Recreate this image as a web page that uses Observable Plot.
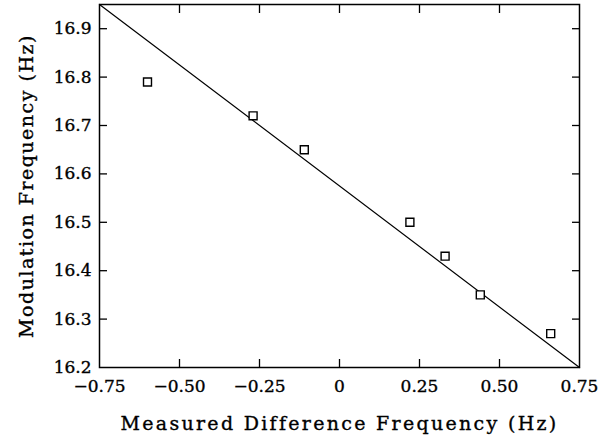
<!DOCTYPE html>
<html><head><meta charset="utf-8">
<script src="https://cdn.jsdelivr.net/npm/d3@7"></script>
<script src="https://cdn.jsdelivr.net/npm/@observablehq/plot@0.6"></script>
<style>body{margin:0;background:#fff;} svg{display:block;} svg text{stroke:#000;stroke-width:0.35px;}</style>
</head><body><div id="chart"></div>
<script>
const diffFreq = [-0.60, -0.27, -0.11, 0.22, 0.33, 0.44, 0.66];
const modFreq  = [16.79, 16.72, 16.65, 16.50, 16.43, 16.35, 16.27];
const fitX = [-0.75, 0.75];
const fitY = [16.95, 16.20];
const xTicks = [-0.75, -0.5, -0.25, 0, 0.25, 0.5, 0.75];
const yTicks = [16.2, 16.3, 16.4, 16.5, 16.6, 16.7, 16.8, 16.9];
const xInner = [-0.5, -0.25, 0, 0.25, 0.5];
const yInner = [16.3, 16.4, 16.5, 16.6, 16.7, 16.8, 16.9];

const pts = diffFreq.map((x, i) => ({x, y: modFreq[i]}));
const fit = fitX.map((x, i) => ({x, y: fitY[i]}));
const fx = d => d === 0 ? "0" : d3.format(".2f")(d);
const fy = d => d3.format(".1f")(d);
const none = () => "";

const chart = Plot.plot({
  width: 613, height: 438,
  marginLeft: 99, marginRight: 34, marginTop: 4, marginBottom: 71,
  style: {fontFamily: "DejaVu Serif", fontSize: "17px", color: "#000", background: "#fff"},
  x: {domain: [-0.75, 0.75]},
  y: {domain: [16.2, 16.95]},
  marks: [
    Plot.frame({stroke: "#000", strokeWidth: 1.5}),
    Plot.axisX(xInner, {anchor: "bottom", tickSize: -8, tickFormat: none, label: null, strokeWidth: 1.3}),
    Plot.axisX(xInner, {anchor: "top", tickSize: -8, tickFormat: none, label: null, strokeWidth: 1.3}),
    Plot.axisY(yInner, {anchor: "left", tickSize: -8, tickFormat: none, label: null, strokeWidth: 1.3}),
    Plot.axisY(yInner, {anchor: "right", tickSize: -8, tickFormat: none, label: null, strokeWidth: 1.3}),
    Plot.axisX(xTicks, {anchor: "bottom", tickSize: 0, tickPadding: 12, tickFormat: fx,
      label: "Measured Difference Frequency (Hz)", labelAnchor: "center", labelArrow: "none", labelOffset: 62,
      fontSize: 17}),
    Plot.axisY(yTicks, {anchor: "left", tickSize: 0, tickPadding: 8, tickFormat: fy,
      label: "Modulation Frequency (Hz)", labelAnchor: "center", labelArrow: "none", labelOffset: 80,
      fontSize: 17}),
    Plot.line(fit, {x: "x", y: "y", stroke: "#000", strokeWidth: 1.2}),
    Plot.dot(pts, {x: "x", y: "y", symbol: "square", r: 4.5, fill: "#fff", stroke: "#000", strokeWidth: 1.4})
  ]
});
document.getElementById("chart").appendChild(chart);
d3.select(chart).selectAll("g[aria-label='x-axis label'] text")
  .style("font-size", "19px").style("letter-spacing", "2.3px");
d3.select(chart).selectAll("g[aria-label='y-axis label'] text")
  .style("font-size", "19px").style("letter-spacing", "1.5px");
</script></body></html>
